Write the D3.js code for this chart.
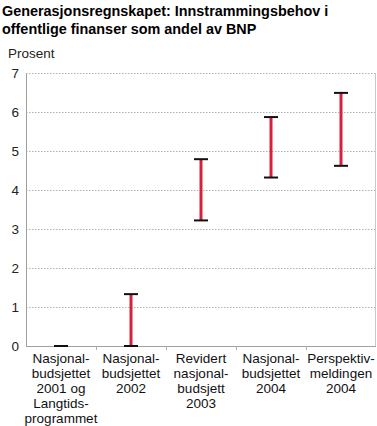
<!DOCTYPE html>
<html><head><meta charset="utf-8">
<script src="https://cdn.jsdelivr.net/npm/d3@7"></script>
<style>body{margin:0;background:#fff}svg{display:block;font-family:"Liberation Sans",Arial,sans-serif}</style>
</head><body><svg id="c" width="377" height="426"></svg>
<script>
const categories = [
  ["Nasjonal-","budsjettet","2001 og","Langtids-","programmet"],
  ["Nasjonal-","budsjettet","2002"],
  ["Revidert","nasjonal-","budsjett","2003"],
  ["Nasjonal-","budsjettet","2004"],
  ["Perspektiv-","meldingen","2004"]
];
const lowValues = [0, 0, 3.22, 4.32, 4.62];
const highValues = [0, 1.33, 4.79, 5.87, 6.49];
const yTicks = [0,1,2,3,4,5,6,7];

const svg = d3.select("#c");
const m = {l:26, r:376, t:73, b:346};
const x = d3.scaleBand().domain(d3.range(categories.length)).range([m.l, m.r]);
const y = d3.scaleLinear().domain([0,7]).range([m.b, m.t]);

svg.append("text").attr("x",2).attr("y",16).attr("font-size",14.4).attr("font-weight","bold").text("Generasjonsregnskapet: Innstrammingsbehov i");
svg.append("text").attr("x",2).attr("y",34).attr("font-size",14.4).attr("font-weight","bold").text("offentlige finanser som andel av BNP");
svg.append("text").attr("x",8).attr("y",58).attr("font-size",13.5).attr("fill","#222").text("Prosent");

// gridlines
svg.append("g").selectAll("line").data(yTicks.filter(d=>d>0)).join("line")
  .attr("x1",m.l).attr("x2",m.r).attr("y1",d=>y(d)+0.5).attr("y2",d=>y(d)+0.5)
  .attr("stroke","#b0b0b0").attr("stroke-dasharray","1.5,1.5");
// right border
svg.append("line").attr("x1",m.r-0.5).attr("x2",m.r-0.5).attr("y1",m.t).attr("y2",m.b).attr("stroke","#c8c8c8");

// y axis
const ya = svg.append("g").attr("transform",`translate(${m.l},0)`)
  .call(d3.axisLeft(y).tickValues(yTicks).tickSize(0).tickPadding(7).tickFormat(d3.format("d")));
ya.select(".domain").attr("stroke","#a0a0a0");
ya.selectAll("text").attr("font-size",13.5).attr("fill","#222").attr("font-family","Liberation Sans, Arial, sans-serif");

// x axis
const xa = svg.append("g").attr("transform",`translate(0,${m.b})`);
xa.append("line").attr("x1",m.l).attr("x2",m.r).attr("y1",0.5).attr("y2",0.5).attr("stroke","#a0a0a0");
xa.selectAll("line.tk").data(d3.range(1,categories.length)).join("line").attr("class","tk")
  .attr("x1",d=>x(d)+0.5).attr("x2",d=>x(d)+0.5).attr("y1",0).attr("y2",4).attr("stroke","#b0b0b0");
categories.forEach((lines,i)=>{
  const t = xa.append("text").attr("text-anchor","middle").attr("font-size",13.5).attr("fill","#111")
    .attr("transform",`translate(${x(i)+x.bandwidth()/2},17)`);
  lines.forEach((l,j)=>t.append("tspan").attr("x",0).attr("y",j*15).text(l));
});

// range bars
const g = svg.append("g");
categories.forEach((c,i)=>{
  const cx = x(i)+x.bandwidth()/2;
  if (highValues[i] > lowValues[i]) {
    g.append("line").attr("x1",cx).attr("x2",cx).attr("y1",y(highValues[i])).attr("y2",y(lowValues[i]))
      .attr("stroke","#d7203b").attr("stroke-width",3);
  }
  [lowValues[i], highValues[i]].forEach(v=>{
    g.append("line").attr("x1",cx-7).attr("x2",cx+7).attr("y1",y(v)).attr("y2",y(v))
      .attr("stroke","#111").attr("stroke-width",2);
  });
});
</script></body></html>
